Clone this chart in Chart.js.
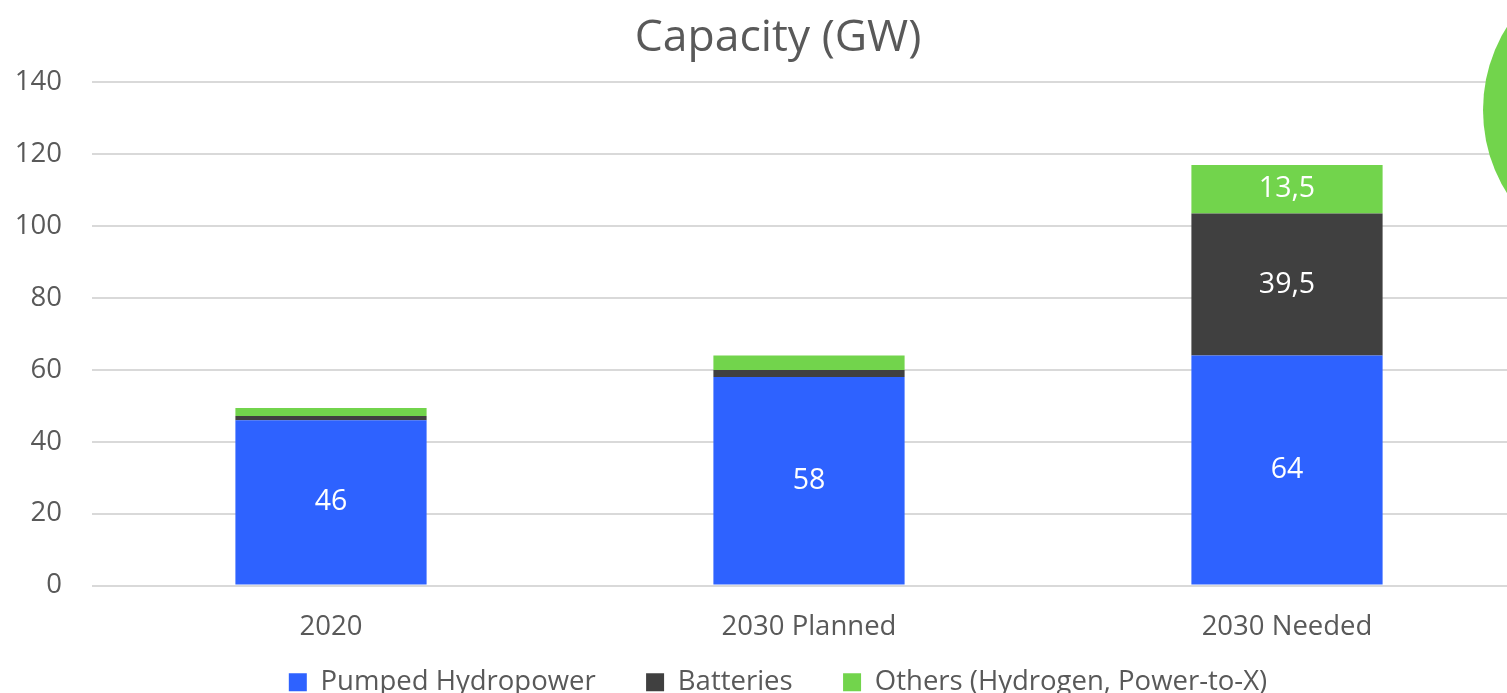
<!DOCTYPE html>
<html>
<head>
<meta charset="utf-8">
<script src="https://cdn.jsdelivr.net/npm/chart.js@4.4.0/dist/chart.umd.min.js"></script>
<style>
  html, body { margin: 0; padding: 0; background: #fff; overflow: hidden; }
  #wrap { position: relative; width: 1556px; height: 706px; }
  #blob {
    position: absolute; left: 1483px; top: -47px;
    width: 314px; height: 314px; border-radius: 50%; background: #72d44c;
  }
</style>
</head>
<body>
<div id="wrap">
  <canvas id="capChart" width="1556" height="706"></canvas>
  <div id="blob"></div>
</div>
<script>
// ================== Data ==================
const categories = ["2020", "2030 Planned", "2030 Needed"];
const pumpedHydro = [46, 58, 64];
const batteries = [1.2, 2, 39.5];
const others = [2.2, 4, 13.5];
const yTicks = [0, 20, 40, 60, 80, 100, 120, 140];
// only these segments carry a label in the original
const showLabel = [
  [true, true, true],
  [false, false, true],
  [false, false, true],
];

const FONT = "'Open Sans', sans-serif";
const GREY = "#595959";
const TICK_SIZE = 27.5;

// ================== Segment labels ==================
const segmentLabels = {
  id: "segmentLabels",
  afterDatasetsDraw(chart) {
    const ctx = chart.ctx;
    ctx.save();
    ctx.fillStyle = "#ffffff";
    ctx.font = "28.5px " + FONT;
    ctx.textAlign = "center";
    ctx.textBaseline = "middle";
    chart.data.datasets.forEach((ds, di) => {
      chart.getDatasetMeta(di).data.forEach((bar, i) => {
        if (!showLabel[di][i]) return;
        const { x, y, base } = bar.getProps(["x", "y", "base"], true);
        const txt = String(ds.data[i]).replace(".", ",");
        ctx.fillText(txt, x, (y + base) / 2);
      });
    });
    ctx.restore();
  },
};

// y tick labels overhang the narrow axis box, so widen its clip area to the canvas edge
const widenYClip = {
  id: "widenYClip",
  afterLayout(chart) { chart.scales.y.left = 0; },
};

// ================== Chart ==================
const ctx = document.getElementById("capChart").getContext("2d");
new Chart(ctx, {
  type: "bar",
  data: {
    labels: categories,
    datasets: [
      { label: "Pumped Hydropower", data: pumpedHydro, backgroundColor: "#2e62ff" },
      { label: "Batteries", data: batteries, backgroundColor: "#404040" },
      { label: "Others (Hydrogen, Power-to-X)", data: others, backgroundColor: "#72d44c" },
    ],
  },
  options: {
    responsive: false,
    animation: false,
    datasets: { bar: { categoryPercentage: 1, barPercentage: 0.4, borderWidth: 0 } },
    layout: { padding: { left: 30, right: 30, top: 10, bottom: 0 } },
    plugins: {
      title: {
        display: true,
        text: "Capacity (GW)",
        color: GREY,
        font: { family: FONT, size: 44.5, weight: "normal" },
        padding: { top: 2, bottom: 17 },
      },
      legend: {
        position: "bottom",
        labels: {
          color: GREY,
          font: { family: FONT, size: TICK_SIZE },
          boxWidth: 18,
          boxHeight: 18,
          padding: 0,
          // wider gap between items than the vertical padding allows
          generateLabels(chart) {
            const items = Chart.defaults.plugins.legend.labels.generateLabels(chart);
            items.forEach((it, i) => {
              if (i < items.length - 1) it.text += "\u2003\u2002\u2004";
            });
            return items;
          },
        },
      },
      tooltip: { enabled: false },
    },
    scales: {
      x: {
        stacked: true,
        grid: { display: false, drawTicks: false },
        border: { display: false },
        ticks: { color: GREY, font: { family: FONT, size: TICK_SIZE }, padding: 25 },
        afterFit(scale) { scale.paddingLeft = 0; scale.paddingRight = 0; },
      },
      y: {
        stacked: true,
        min: 0,
        max: 140,
        afterBuildTicks: (axis) => { axis.ticks = yTicks.map((v) => ({ value: v })); },
        afterFit(axis) { axis.width = 62; },
        grid: { color: "#d9d9d9", lineWidth: 2, drawTicks: false },
        border: { display: false },
        ticks: { color: GREY, font: { family: FONT, size: TICK_SIZE }, padding: 30 },
      },
    },
  },
  plugins: [segmentLabels, widenYClip],
});
</script>
</body>
</html>
